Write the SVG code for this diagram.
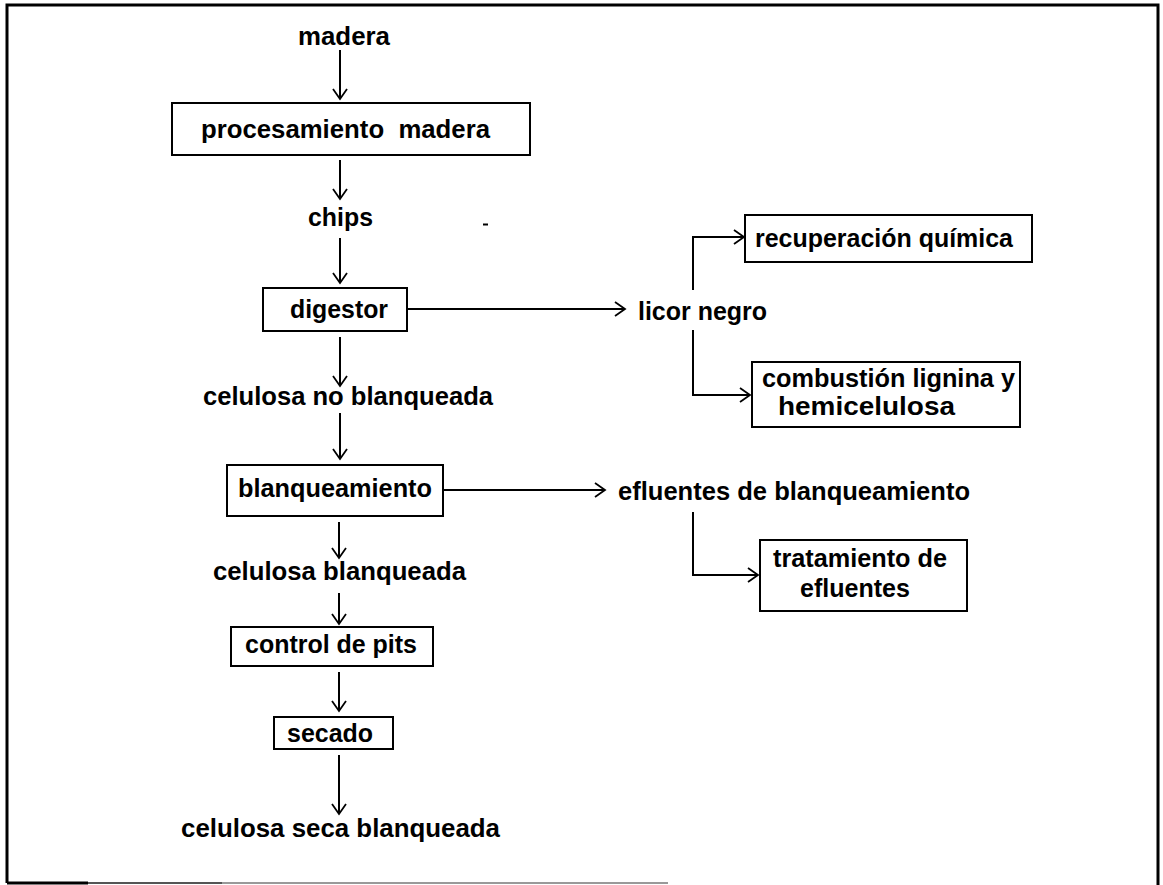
<svg xmlns="http://www.w3.org/2000/svg" width="1163" height="885" viewBox="0 0 1163 885">
<style>
.t{font-family:"Liberation Sans",Arial,sans-serif;font-weight:bold;font-size:25px;fill:#000}
.b{fill:#fff;stroke:#000;stroke-width:2}
.c{fill:none;stroke:#000;stroke-width:2;marker-end:url(#ah)}
</style>
<defs>
<marker id="ah" markerUnits="userSpaceOnUse" markerWidth="14" markerHeight="18" refX="12" refY="9" orient="auto">
<path d="M2,2 L12,9 L2,16" fill="none" stroke="#000" stroke-width="1.8"/>
</marker>
</defs>
<rect width="1163" height="885" fill="#fff"/>
<g id="frame" fill="none" stroke="#000" stroke-width="3">
<path d="M7,883 V5 H1158 V885"/>
<line x1="7" y1="883" x2="88" y2="883"/>
<line x1="88" y1="883" x2="222" y2="883" stroke="#555" stroke-width="2"/>
<line x1="222" y1="883" x2="668" y2="883" stroke="#999" stroke-width="2"/>
</g>
<g id="connectors">
<line class="c" x1="340" y1="50" x2="340" y2="99"/>
<line class="c" x1="340" y1="160" x2="340" y2="199"/>
<line class="c" x1="340" y1="238" x2="340" y2="283"/>
<line class="c" x1="407" y1="309" x2="625" y2="309"/>
<line class="c" x1="340" y1="337" x2="340" y2="386"/>
<line class="c" x1="340" y1="413" x2="340" y2="459"/>
<line class="c" x1="443" y1="490" x2="605" y2="490"/>
<line class="c" x1="339" y1="522" x2="339" y2="558"/>
<line class="c" x1="339" y1="593" x2="339" y2="624"/>
<line class="c" x1="339" y1="672" x2="339" y2="711"/>
<line class="c" x1="339" y1="755" x2="339" y2="814"/>
<polyline class="c" points="693,290 693,237 744,237"/>
<polyline class="c" points="693,330 693,395 750,395"/>
<polyline class="c" points="693,512 693,575 758,575"/>
</g>
<g id="n-madera"><text class="t" x="298" y="45" textLength="92" lengthAdjust="spacingAndGlyphs">madera</text></g>
<g id="n-procesamiento"><rect class="b" x="172" y="103" width="358" height="52"/><text class="t" x="201" y="138" textLength="289" lengthAdjust="spacingAndGlyphs" xml:space="preserve">procesamiento  madera</text></g>
<g id="n-chips"><text class="t" x="308" y="226" textLength="65" lengthAdjust="spacingAndGlyphs">chips</text></g>
<g id="n-mark"><line x1="483" y1="224.5" x2="488" y2="224.5" stroke="#000" stroke-width="2"/></g>
<g id="n-digestor"><rect class="b" x="263" y="288" width="144" height="43"/><text class="t" x="290" y="318" textLength="98" lengthAdjust="spacingAndGlyphs">digestor</text></g>
<g id="n-licor"><text class="t" x="638" y="320" textLength="129" lengthAdjust="spacingAndGlyphs">licor negro</text></g>
<g id="n-recuperacion"><rect class="b" x="745" y="215" width="287" height="47"/><text class="t" x="755" y="247" textLength="258" lengthAdjust="spacingAndGlyphs">recuperación química</text></g>
<g id="n-combustion"><rect class="b" x="752" y="362" width="268" height="65"/><text class="t" x="762" y="387" textLength="253" lengthAdjust="spacingAndGlyphs">combustión lignina y</text><text class="t" x="778" y="415" textLength="177" lengthAdjust="spacingAndGlyphs">hemicelulosa</text></g>
<g id="n-celnob"><text class="t" x="203" y="405" textLength="290" lengthAdjust="spacingAndGlyphs">celulosa no blanqueada</text></g>
<g id="n-blanqueamiento"><rect class="b" x="227" y="465" width="216" height="51"/><text class="t" x="238" y="497" textLength="194" lengthAdjust="spacingAndGlyphs">blanqueamiento</text></g>
<g id="n-efluentes"><text class="t" x="618" y="500" textLength="352" lengthAdjust="spacingAndGlyphs">efluentes de blanqueamiento</text></g>
<g id="n-tratamiento"><rect class="b" x="760" y="540" width="207" height="71"/><text class="t" x="773" y="567" textLength="174" lengthAdjust="spacingAndGlyphs">tratamiento de</text><text class="t" x="800" y="597" textLength="110" lengthAdjust="spacingAndGlyphs">efluentes</text></g>
<g id="n-celb"><text class="t" x="213" y="580" textLength="253" lengthAdjust="spacingAndGlyphs">celulosa blanqueada</text></g>
<g id="n-control"><rect class="b" x="231" y="627" width="202" height="39"/><text class="t" x="245" y="653" textLength="172" lengthAdjust="spacingAndGlyphs">control de pits</text></g>
<g id="n-secado"><rect class="b" x="274" y="717" width="119" height="32"/><text class="t" x="287" y="742" textLength="86" lengthAdjust="spacingAndGlyphs">secado</text></g>
<g id="n-celseca"><text class="t" x="181" y="837" textLength="319" lengthAdjust="spacingAndGlyphs">celulosa seca blanqueada</text></g>
</svg>
